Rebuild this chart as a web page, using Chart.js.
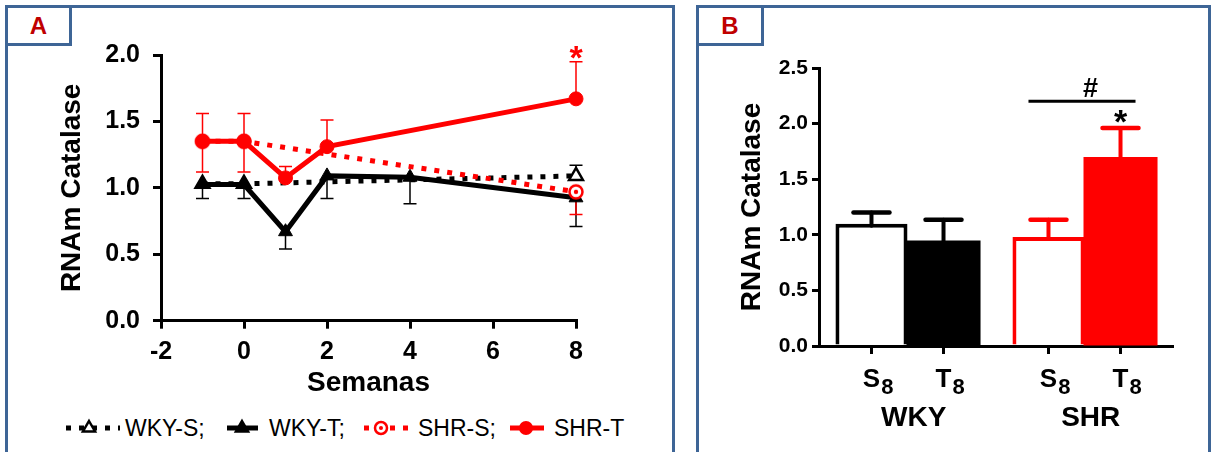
<!DOCTYPE html>
<html>
<head>
<meta charset="utf-8">
<script src="https://cdn.jsdelivr.net/npm/chart.js@4.4.1/dist/chart.umd.min.js"></script>
<style>
  body { margin: 0; background: #fff; width: 1211px; height: 452px; overflow: hidden; position: relative; font-family: "Liberation Sans", Arial, sans-serif; }
  .panel { position: absolute; border: 3px solid #3E6596; box-sizing: border-box; }
  .tag { position: absolute; border: 3px solid #3E6596; box-sizing: border-box; background: #fff; color: #C00000; font-weight: bold; font-size: 24px; text-align: center; line-height: 35px; }
  canvas { position: absolute; }
  .legtext { position: absolute; top: 417px; font-size: 23px; line-height: 23px; color: #000; white-space: nowrap; }
  #legsvg { position: absolute; left: 0; top: 414px; }
</style>
</head>
<body>
<div class="panel" style="left:5px;top:5px;width:670px;height:470px"></div>
<div class="panel" style="left:696px;top:5px;width:515px;height:470px"></div>
<div class="tag" style="left:5px;top:5px;width:67px;height:41px">A</div>
<div class="tag" style="left:696px;top:5px;width:68px;height:41px">B</div>

<canvas id="chartA" width="680" height="400" style="left:0;top:0"></canvas>
<canvas id="chartB" width="521" height="452" style="left:690px;top:0"></canvas>

<svg id="legsvg" width="680" height="30"></svg>
<div id="legend"></div>

<script>
// ---- panel A data ----
const weeksT = [-1, 0, 1, 2, 4, 8];
const weeksShrT = [-1, 0, 1, 2, 8];
const weeksS = [-1, 0, 8];
const wkyS = [1.03, 1.03, 1.09];
const wkyT = [1.025, 1.025, 0.67, 1.09, 1.08, 0.925];
const shrS = [1.35, 1.35, 0.97];
const shrT = [1.35, 1.35, 1.075, 1.31, 1.67];
const wkySUp = [0, 0, 0.08];
const wkyTDown = [0.105, 0.105, 0.13, 0.17, 0.2, 0.215];
const shrSDown = [0.23, 0.23, 0.17];
const shrTUp = [0.21, 0.21, 0.085, 0.2, 0.28];
const seriesNames = ['WKY-S;', 'WKY-T;', 'SHR-S;', 'SHR-T'];
const xTicksA = [-2, 0, 2, 4, 6, 8];
const yTicksA = [0, 0.5, 1.0, 1.5, 2.0];

// ---- panel B data ----
const groups = ['WKY', 'SHR'];
const barLetters = ['S', 'T'];
const barSub = '8';
const sedentary = [1.10, 0.98];
const trained = [0.94, 1.69];
const errSed = [0.10, 0.155];
const errTrn = [0.195, 0.27];
const yTicksB = [0, 0.5, 1.0, 1.5, 2.0, 2.5];

const RED = '#FF0000';
const BLK = '#000000';
const FONT = '"Liberation Sans", Arial, sans-serif';

function pts(xs, ys) { return xs.map((x, i) => ({ x: x, y: ys[i] })); }

// open red circle with dot marker
const ringDot = document.createElement('canvas');
ringDot.width = 18; ringDot.height = 18;
(function () {
  const c = ringDot.getContext('2d');
  c.strokeStyle = RED; c.lineWidth = 2.5; c.fillStyle = '#fff';
  c.beginPath(); c.arc(9, 9, 6.5, 0, Math.PI * 2); c.fill(); c.stroke();
  c.fillStyle = RED; c.beginPath(); c.arc(9, 9, 2.2, 0, Math.PI * 2); c.fill();
})();

const errorBarsA = {
  id: 'errorBarsA',
  beforeDatasetsDraw(chart) {
    const ctx = chart.ctx, y = chart.scales.y;
    chart.data.datasets.forEach((ds, i) => {
      const meta = chart.getDatasetMeta(i);
      ctx.save();
      ctx.strokeStyle = ds.borderColor;
      ctx.lineWidth = 1.5;
      meta.data.forEach((pt, j) => {
        const v = ds.data[j].y;
        [[ds.errUp, 1], [ds.errDown, -1]].forEach(([arr, s]) => {
          if (!arr || !arr[j]) return;
          const ye = y.getPixelForValue(v + s * arr[j]);
          ctx.beginPath();
          ctx.moveTo(pt.x, pt.y); ctx.lineTo(pt.x, ye);
          ctx.moveTo(pt.x - 6.5, ye); ctx.lineTo(pt.x + 6.5, ye);
          ctx.stroke();
        });
      });
      ctx.restore();
    });
  },
  afterDatasetsDraw(chart) {
    const ctx = chart.ctx, y = chart.scales.y;
    const ds = chart.data.datasets[3];
    const meta = chart.getDatasetMeta(3);
    const last = ds.data.length - 1;
    const pt = meta.data[last];
    const top = y.getPixelForValue(ds.data[last].y + ds.errUp[last]);
    ctx.save();
    ctx.fillStyle = RED;
    ctx.font = 'bold 34px ' + FONT;
    ctx.textAlign = 'center';
    ctx.textBaseline = 'alphabetic';
    ctx.fillText('*', pt.x, top + 7);
    ctx.restore();
  }
};

new Chart(document.getElementById('chartA'), {
  type: 'line',
  data: {
    datasets: [
      { label: seriesNames[0], data: pts(weeksS, wkyS), errUp: wkySUp,
        borderColor: BLK, borderWidth: 5, borderDash: [5, 8],
        pointStyle: 'triangle', pointRadius: 8, pointBackgroundColor: '#fff', pointBorderColor: BLK, pointBorderWidth: 2.5,
        order: 4, clip: false },
      { label: seriesNames[1], data: pts(weeksT, wkyT), errDown: wkyTDown,
        borderColor: BLK, borderWidth: 5,
        pointStyle: 'triangle', pointRadius: 8, pointBackgroundColor: BLK, pointBorderColor: BLK, pointBorderWidth: 1,
        order: 3, clip: false },
      { label: seriesNames[2], data: pts(weeksS, shrS), errDown: shrSDown,
        borderColor: RED, borderWidth: 5, borderDash: [5, 8],
        pointStyle: ringDot, pointRadius: 7,
        order: 2, clip: false },
      { label: seriesNames[3], data: pts(weeksShrT, shrT), errUp: shrTUp,
        borderColor: RED, borderWidth: 5,
        pointStyle: 'circle', pointRadius: 7, pointBackgroundColor: RED, pointBorderColor: RED, pointBorderWidth: 1,
        order: 1, clip: false }
    ]
  },
  options: {
    responsive: false,
    animation: false,
    devicePixelRatio: 1,
    layout: { padding: { left: 0, right: 104, top: 55, bottom: 0 } },
    plugins: { legend: { display: false }, tooltip: { enabled: false } },
    scales: {
      x: {
        type: 'linear', min: xTicksA[0], max: xTicksA[xTicksA.length - 1],
        afterFit: s => { s.height = 79.3; },
        afterBuildTicks: s => { s.ticks = xTicksA.map(v => ({ value: v })); },
        grid: { display: true, drawOnChartArea: false, drawTicks: true, tickLength: 8, color: BLK, lineWidth: 3 },
        border: { color: BLK, width: 3 },
        ticks: { color: BLK, padding: 8, font: { family: FONT, size: 25, weight: 'bold' } },
        title: { display: true, text: 'Semanas', color: BLK, padding: 0, font: { family: FONT, size: 28, weight: 'bold' } }
      },
      y: {
        min: yTicksA[0], max: yTicksA[yTicksA.length - 1],
        afterFit: s => { s.width = 161; },
        afterBuildTicks: s => { s.ticks = yTicksA.map(v => ({ value: v })); },
        grid: { display: true, drawOnChartArea: false, drawTicks: true, tickLength: 8, color: BLK, lineWidth: 3 },
        border: { color: BLK, width: 3 },
        ticks: { color: BLK, padding: 13, font: { family: FONT, size: 25, weight: 'bold' }, callback: v => v.toFixed(1) },
        title: { display: true, text: 'RNAm Catalase', color: BLK, padding: { top: 55 }, font: { family: FONT, size: 28, weight: 'bold' } }
      }
    }
  },
  plugins: [errorBarsA]
});

// ---- panel B ----
const groupColors = [BLK, RED];

const barExtras = {
  id: 'barExtras',
  afterDatasetsDraw(chart) {
    const ctx = chart.ctx, y = chart.scales.y;
    const base = y.getPixelForValue(0);
    const metas = [chart.getDatasetMeta(0), chart.getDatasetMeta(1)];
    ctx.save();
    // error bars
    chart.data.datasets.forEach((ds, i) => {
      metas[i].data.forEach((bar, j) => {
        const top = y.getPixelForValue(ds.data[j] + ds.err[j]);
        ctx.strokeStyle = groupColors[j];
        ctx.lineCap = 'round';
        ctx.lineWidth = 4;
        ctx.beginPath(); ctx.moveTo(bar.x, bar.y + 2); ctx.lineTo(bar.x, top); ctx.stroke();
        ctx.lineWidth = 4.5;
        ctx.beginPath(); ctx.moveTo(bar.x - 18, top); ctx.lineTo(bar.x + 18, top); ctx.stroke();
      });
    });
    // tick marks and labels
    ctx.lineCap = 'butt';
    ctx.fillStyle = BLK;
    ctx.textBaseline = 'alphabetic';
    groups.forEach((g, j) => {
      let left = 0, right = 0;
      barLetters.forEach((letter, i) => {
        const bar = metas[i].data[j];
        ctx.strokeStyle = BLK; ctx.lineWidth = 3;
        ctx.beginPath(); ctx.moveTo(bar.x, base); ctx.lineTo(bar.x, base + 8); ctx.stroke();
        ctx.font = 'bold 26px ' + FONT;
        const w = ctx.measureText(letter).width;
        ctx.textAlign = 'center';
        ctx.fillText(letter, bar.x, base + 41);
        ctx.font = 'bold 22px ' + FONT;
        ctx.textAlign = 'left';
        const sw = ctx.measureText(barSub).width;
        ctx.fillText(barSub, bar.x + w / 2 + 1, base + 48);
        if (i === 0) left = bar.x - w / 2;
        else right = bar.x + w / 2 + 1 + sw;
      });
      ctx.font = 'bold 28px ' + FONT;
      ctx.textAlign = 'center';
      ctx.fillText(g, (left + right) / 2, base + 80);
    });
    // significance marks on SHR
    const sBar = metas[0].data[1], tBar = metas[1].data[1];
    const ly = y.getPixelForValue(2.2);
    ctx.strokeStyle = BLK; ctx.lineWidth = 3;
    ctx.beginPath(); ctx.moveTo(sBar.x - 20, ly); ctx.lineTo(tBar.x + 15, ly); ctx.stroke();
    ctx.font = 'bold 27px ' + FONT;
    ctx.textAlign = 'center';
    ctx.fillText('#', (sBar.x + tBar.x) / 2 + 6, ly - 4);
    const capT = y.getPixelForValue(trained[1] + errTrn[1]);
    ctx.font = 'bold 34px ' + FONT;
    ctx.fillText('*', tBar.x, capT + 5);
    ctx.restore();
  }
};

new Chart(document.getElementById('chartB'), {
  type: 'bar',
  data: {
    labels: groups,
    datasets: [
      { label: 'S', data: sedentary, err: errSed,
        backgroundColor: ['#fff', '#fff'], borderColor: [BLK, RED], borderWidth: 4 },
      { label: 'T', data: trained, err: errTrn,
        backgroundColor: [BLK, RED], borderWidth: 0, inflateAmount: 1 }
    ]
  },
  options: {
    responsive: false,
    animation: false,
    devicePixelRatio: 1,
    categoryPercentage: 0.814,
    barPercentage: 1.0,
    layout: { padding: { left: 0, right: 38, top: 68, bottom: 0 } },
    plugins: { legend: { display: false }, tooltip: { enabled: false } },
    scales: {
      x: {
        afterFit: s => { s.height = 106; },
        grid: { display: false },
        border: { color: BLK, width: 3 },
        ticks: { display: false }
      },
      y: {
        min: yTicksB[0], max: yTicksB[yTicksB.length - 1],
        afterFit: s => { s.width = 129; },
        afterBuildTicks: s => { s.ticks = yTicksB.map(v => ({ value: v })); },
        grid: { display: true, drawOnChartArea: false, drawTicks: true, tickLength: 7, color: BLK, lineWidth: 3 },
        border: { color: BLK, width: 3 },
        ticks: { color: BLK, padding: 4, font: { family: FONT, size: 21, weight: 'bold' }, callback: v => v.toFixed(1) },
        title: { display: true, text: 'RNAm Catalase', color: BLK, padding: { top: 45 }, font: { family: FONT, size: 28, weight: 'bold' } }
      }
    }
  },
  plugins: [barExtras]
});

// ---- legend (panel A) ----
const legendItems = [
  { name: seriesNames[0], color: BLK, dash: '5 8', x1: 66, x2: 120, mx: 89, marker: 'triOpen', tx: 125 },
  { name: seriesNames[1], color: BLK, dash: '', x1: 227, x2: 258, mx: 242, marker: 'tri', tx: 269 },
  { name: seriesNames[2], color: RED, dash: '5 8', x1: 364, x2: 412, mx: 381, marker: 'ring', tx: 418 },
  { name: seriesNames[3], color: RED, dash: '', x1: 510, x2: 544, mx: 526, marker: 'dot', tx: 554 }
];
const svg = document.getElementById('legsvg');
const cy = 14;
let s = '';
legendItems.forEach(it => {
  s += `<line x1="${it.x1}" y1="${cy}" x2="${it.x2}" y2="${cy}" stroke="${it.color}" stroke-width="5"${it.dash ? ` stroke-dasharray="${it.dash}"` : ''}/>`;
  if (it.marker === 'triOpen' || it.marker === 'tri') {
    const r = 7;
    const p = [[it.mx, cy - r], [it.mx + r * 0.866, cy + r / 2], [it.mx - r * 0.866, cy + r / 2]].map(q => q.join(',')).join(' ');
    s += `<polygon points="${p}" fill="${it.marker === 'tri' ? it.color : '#fff'}" stroke="${it.color}" stroke-width="2.5"/>`;
  } else if (it.marker === 'ring') {
    s += `<circle cx="${it.mx}" cy="${cy}" r="6" fill="#fff" stroke="${it.color}" stroke-width="2.5"/><circle cx="${it.mx}" cy="${cy}" r="2" fill="${it.color}"/>`;
  } else {
    s += `<circle cx="${it.mx}" cy="${cy}" r="7" fill="${it.color}"/>`;
  }
});
svg.innerHTML = s;
const leg = document.getElementById('legend');
legendItems.forEach(it => {
  const d = document.createElement('div');
  d.className = 'legtext';
  d.style.left = it.tx + 'px';
  d.textContent = it.name;
  leg.appendChild(d);
});
</script>
</body>
</html>
